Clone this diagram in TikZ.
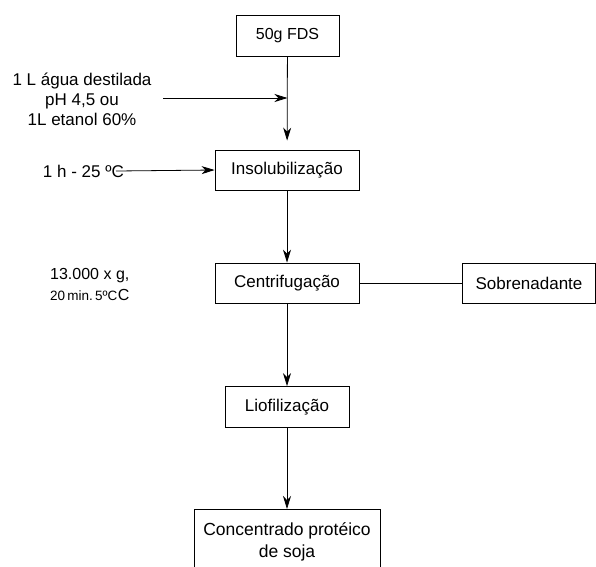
\documentclass[tikz,border=0pt]{standalone}
\usepackage{fontspec}
\setmainfont{Liberation Sans}
\usepackage{tikz}
\usetikzlibrary{arrows.meta}

\begin{document}
\begin{tikzpicture}[x=1pt, y=-1pt, font=\fontsize{17}{20}\selectfont,
  caixa/.style={draw, thick, minimum height=41pt, inner sep=0pt, anchor=center},
  seta/.style={thick, -{Stealth[length=13pt, width=8pt, inset=4pt]}},
  linha/.style={thick}]
\useasboundingbox (0,0) rectangle (596,566);
\node[caixa, minimum width=103pt, font=\fontsize{16}{20}\selectfont] (fds) at (287.5,36) {50g FDS};
\node[caixa, minimum width=144pt, minimum height=40pt] (insol) at (287,170) {Insolubilização};
\node[caixa, minimum width=144pt, minimum height=40pt] (centr) at (287,283) {Centrifugação};
\node[caixa, minimum width=133pt, minimum height=40pt] (sobre) at (529,283) {Sobrenadante};
\node[caixa, minimum width=124pt] (liof) at (287,407) {Liofilização};
\node[draw, thick, anchor=north, minimum width=186pt, align=center, inner xsep=0pt, inner ysep=13pt, text depth=40pt, font=\fontsize{17.5}{22}\selectfont] (conc) at (287,509) {Concentrado protéico\\de soja};
\node[align=center, inner sep=0pt] (agua) at (82,99) {1 L água destilada\\pH 4,5 ou\\1L etanol 60\%};
\node[anchor=east, inner sep=0pt] (temp) at (124,171) {1 h - 25 ºC};
\node[anchor=west, align=left, inner sep=0pt, font=\fontsize{16}{21}\selectfont] (cond) at (50,284) {13.000 x g,\\{\fontsize{13.5}{16}\selectfont 20\,min.\,5ºC}\kern0.5pt C};
\coordinate (a0) at (163,98);
\coordinate (a1) at (287.5,98);
\draw[seta] (a0) -- (a1);
\draw[seta, shorten >=9pt] (fds) -- (insol);
\draw[seta] (temp.east) ++(-8pt,0) -- (insol.west);
\draw[seta] (insol) -- (centr);
\draw[linha] (centr) -- (sobre);
\draw[seta] (centr) -- (liof);
\draw[seta] (liof) -- (conc);
\end{tikzpicture}
\end{document}
